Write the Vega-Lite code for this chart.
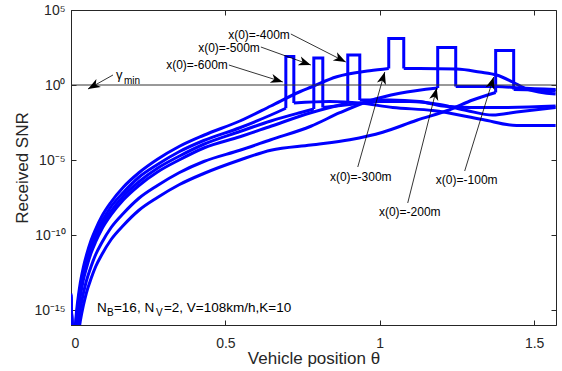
{
"$schema":"https://vega.github.io/schema/vega-lite/v6.json",
"width":485,"height":315,
"autosize":{"type":"none"},
"padding":{"left":71,"top":10,"right":6,"bottom":46},
"config":{
 "view":{"stroke":"#262626","strokeWidth":1},
 "axis":{"grid":false,"domainColor":"#262626","tickColor":"#262626","labelColor":"#262626","titleColor":"#262626","labelFont":"Liberation Sans","titleFont":"Liberation Sans","titleFontWeight":"normal","labelFontSize":14,"titleFontSize":17,"tickSize":-5,"tickWidth":1,"domainWidth":1},
 "text":{"font":"Liberation Sans"}
},
"datasets":{
 "curves":[
  {"s":"-300","p":"a","i":1,"t":0,"v":1.259e-14},{"s":"-300","p":"a","i":2,"t":0.006,"v":1e-17},{"s":"-300","p":"a","i":3,"t":0.013,"v":5.012e-17},{"s":"-300","p":"a","i":4,"t":0.0162,"v":3.162e-16},{"s":"-300","p":"a","i":5,"t":0.02,"v":1.995e-15},{"s":"-300","p":"a","i":6,"t":0.025,"v":1.259e-14},{"s":"-300","p":"a","i":7,"t":0.03,"v":6.31e-14},{"s":"-300","p":"a","i":8,"t":0.04,"v":7.079e-13},{"s":"-300","p":"a","i":9,"t":0.05,"v":4.467e-12},{"s":"-300","p":"a","i":10,"t":0.065,"v":4.467e-11},{"s":"-300","p":"a","i":11,"t":0.08,"v":2.512e-10},{"s":"-300","p":"a","i":12,"t":0.1,"v":1.778e-9},{"s":"-300","p":"a","i":13,"t":0.13,"v":1.585e-8},{"s":"-300","p":"a","i":14,"t":0.17,"v":1.585e-7},{"s":"-300","p":"a","i":15,"t":0.22,"v":1.413e-6},{"s":"-300","p":"a","i":16,"t":0.28,"v":1.122e-5},{"s":"-300","p":"a","i":17,"t":0.35,"v":7.943e-5},{"s":"-300","p":"a","i":18,"t":0.43,"v":4.467e-4},{"s":"-300","p":"a","i":19,"t":0.5469,"v":3.981e-3},{"s":"-300","p":"a","i":20,"t":0.6472,"v":3.981e-2},{"s":"-300","p":"a","i":21,"t":0.7411,"v":0.3548},{"s":"-300","p":"a","i":22,"t":0.7767,"v":0.7079},{"s":"-300","p":"a","i":23,"t":0.8608,"v":3.548},{"s":"-300","p":"a","i":24,"t":0.9676,"v":8.913},{"s":"-300","p":"a","i":25,"t":1.0291,"v":12.59},
  {"s":"-300","p":"p","i":25,"t":1.0291,"v":12.59},{"s":"-300","p":"p","i":26,"t":1.0291,"v":1259},{"s":"-300","p":"p","i":27,"t":1.0777,"v":1259},{"s":"-300","p":"p","i":28,"t":1.0777,"v":12.59},
  {"s":"-300","p":"b","i":28,"t":1.0777,"v":12.59},{"s":"-300","p":"b","i":29,"t":1.1294,"v":12.59},{"s":"-300","p":"b","i":30,"t":1.2492,"v":11.7},{"s":"-300","p":"b","i":31,"t":1.3236,"v":7.36},{"s":"-300","p":"b","i":32,"t":1.3786,"v":4.64},{"s":"-300","p":"b","i":33,"t":1.4304,"v":1.585},{"s":"-300","p":"b","i":34,"t":1.4757,"v":0.541},{"s":"-300","p":"b","i":35,"t":1.5696,"v":0.2512},

  {"s":"-600","p":"a","i":1,"t":0,"v":1e-14},{"s":"-600","p":"a","i":2,"t":0.006,"v":1e-17},{"s":"-600","p":"a","i":3,"t":0.014,"v":4.467e-17},{"s":"-600","p":"a","i":4,"t":0.0162,"v":1.585e-16},{"s":"-600","p":"a","i":5,"t":0.02,"v":8.913e-16},{"s":"-600","p":"a","i":6,"t":0.025,"v":6.31e-15},{"s":"-600","p":"a","i":7,"t":0.03,"v":2.818e-14},{"s":"-600","p":"a","i":8,"t":0.04,"v":3.162e-13},{"s":"-600","p":"a","i":9,"t":0.05,"v":2.239e-12},{"s":"-600","p":"a","i":10,"t":0.065,"v":1.995e-11},{"s":"-600","p":"a","i":11,"t":0.08,"v":1.259e-10},{"s":"-600","p":"a","i":12,"t":0.1,"v":7.943e-10},{"s":"-600","p":"a","i":13,"t":0.13,"v":7.943e-9},{"s":"-600","p":"a","i":14,"t":0.17,"v":7.079e-8},{"s":"-600","p":"a","i":15,"t":0.22,"v":7.079e-7},{"s":"-600","p":"a","i":16,"t":0.28,"v":5.012e-6},{"s":"-600","p":"a","i":17,"t":0.35,"v":3.548e-5},{"s":"-600","p":"a","i":18,"t":0.43,"v":1.995e-4},{"s":"-600","p":"a","i":19,"t":0.5469,"v":1.413e-3},{"s":"-600","p":"a","i":20,"t":0.6472,"v":1e-2},{"s":"-600","p":"a","i":21,"t":0.6958,"v":2.818e-2},
  {"s":"-600","p":"p","i":21,"t":0.6958,"v":2.818e-2},{"s":"-600","p":"p","i":22,"t":0.6958,"v":79.43},{"s":"-600","p":"p","i":23,"t":0.7217,"v":79.43},{"s":"-600","p":"p","i":24,"t":0.7217,"v":6.31e-2},
  {"s":"-600","p":"b","i":24,"t":0.7217,"v":6.31e-2},{"s":"-600","p":"b","i":25,"t":0.8382,"v":7.943e-2},{"s":"-600","p":"b","i":26,"t":0.9353,"v":6.31e-2},{"s":"-600","p":"b","i":27,"t":1.0421,"v":3.162e-2},{"s":"-600","p":"b","i":28,"t":1.1715,"v":1.995e-2},{"s":"-600","p":"b","i":29,"t":1.3333,"v":5.012e-3},{"s":"-600","p":"b","i":30,"t":1.4434,"v":1.995e-3},{"s":"-600","p":"b","i":31,"t":1.5696,"v":1.995e-3},

  {"s":"-500","p":"a","i":1,"t":0,"v":7.943e-15},{"s":"-500","p":"a","i":2,"t":0.006,"v":1e-17},{"s":"-500","p":"a","i":3,"t":0.015,"v":3.981e-17},{"s":"-500","p":"a","i":4,"t":0.02,"v":5.012e-16},{"s":"-500","p":"a","i":5,"t":0.025,"v":3.162e-15},{"s":"-500","p":"a","i":6,"t":0.03,"v":1.585e-14},{"s":"-500","p":"a","i":7,"t":0.04,"v":1.778e-13},{"s":"-500","p":"a","i":8,"t":0.05,"v":1.122e-12},{"s":"-500","p":"a","i":9,"t":0.065,"v":1.122e-11},{"s":"-500","p":"a","i":10,"t":0.08,"v":6.31e-11},{"s":"-500","p":"a","i":11,"t":0.1,"v":4.467e-10},{"s":"-500","p":"a","i":12,"t":0.13,"v":3.981e-9},{"s":"-500","p":"a","i":13,"t":0.17,"v":3.981e-8},{"s":"-500","p":"a","i":14,"t":0.22,"v":3.548e-7},{"s":"-500","p":"a","i":15,"t":0.28,"v":2.818e-6},{"s":"-500","p":"a","i":16,"t":0.35,"v":1.778e-5},{"s":"-500","p":"a","i":17,"t":0.43,"v":1.122e-4},{"s":"-500","p":"a","i":18,"t":0.5469,"v":7.943e-4},{"s":"-500","p":"a","i":19,"t":0.6472,"v":3.981e-3},{"s":"-500","p":"a","i":20,"t":0.7411,"v":1.413e-2},{"s":"-500","p":"a","i":21,"t":0.7864,"v":2.512e-2},
  {"s":"-500","p":"p","i":21,"t":0.7864,"v":2.512e-2},{"s":"-500","p":"p","i":22,"t":0.7864,"v":63.1},{"s":"-500","p":"p","i":23,"t":0.8155,"v":63.1},{"s":"-500","p":"p","i":24,"t":0.8155,"v":3.162e-2},
  {"s":"-500","p":"b","i":24,"t":0.8155,"v":3.162e-2},{"s":"-500","p":"b","i":25,"t":0.9029,"v":5.012e-2},{"s":"-500","p":"b","i":26,"t":1.0,"v":7.943e-2},{"s":"-500","p":"b","i":27,"t":1.0971,"v":7.943e-2},{"s":"-500","p":"b","i":28,"t":1.1942,"v":5.012e-2},{"s":"-500","p":"b","i":29,"t":1.2816,"v":1.995e-2},{"s":"-500","p":"b","i":30,"t":1.3657,"v":1e-2},{"s":"-500","p":"b","i":31,"t":1.4434,"v":1.585e-2},{"s":"-500","p":"b","i":32,"t":1.5696,"v":3.162e-2},

  {"s":"-400","p":"a","i":1,"t":0,"v":5.012e-15},{"s":"-400","p":"a","i":2,"t":0.007,"v":1e-17},{"s":"-400","p":"a","i":3,"t":0.016,"v":3.981e-17},{"s":"-400","p":"a","i":4,"t":0.02,"v":2.818e-16},{"s":"-400","p":"a","i":5,"t":0.025,"v":1.778e-15},{"s":"-400","p":"a","i":6,"t":0.03,"v":7.943e-15},{"s":"-400","p":"a","i":7,"t":0.04,"v":1e-13},{"s":"-400","p":"a","i":8,"t":0.05,"v":6.31e-13},{"s":"-400","p":"a","i":9,"t":0.065,"v":6.31e-12},{"s":"-400","p":"a","i":10,"t":0.08,"v":3.548e-11},{"s":"-400","p":"a","i":11,"t":0.1,"v":2.512e-10},{"s":"-400","p":"a","i":12,"t":0.13,"v":2.239e-9},{"s":"-400","p":"a","i":13,"t":0.17,"v":2.239e-8},{"s":"-400","p":"a","i":14,"t":0.22,"v":1.995e-7},{"s":"-400","p":"a","i":15,"t":0.28,"v":1.585e-6},{"s":"-400","p":"a","i":16,"t":0.35,"v":1e-5},{"s":"-400","p":"a","i":17,"t":0.43,"v":6.31e-5},{"s":"-400","p":"a","i":18,"t":0.5469,"v":3.548e-4},{"s":"-400","p":"a","i":19,"t":0.6472,"v":1.778e-3},{"s":"-400","p":"a","i":20,"t":0.7767,"v":1.413e-2},{"s":"-400","p":"a","i":21,"t":0.8964,"v":6.31e-2},
  {"s":"-400","p":"p","i":21,"t":0.8964,"v":6.31e-2},{"s":"-400","p":"p","i":22,"t":0.8964,"v":100},{"s":"-400","p":"p","i":23,"t":0.9353,"v":100},{"s":"-400","p":"p","i":24,"t":0.9353,"v":0.1},
  {"s":"-400","p":"b","i":24,"t":0.9353,"v":0.1},{"s":"-400","p":"b","i":25,"t":1.0324,"v":0.1},{"s":"-400","p":"b","i":26,"t":1.1294,"v":7.943e-2},{"s":"-400","p":"b","i":27,"t":1.2039,"v":3.981e-2},{"s":"-400","p":"b","i":28,"t":1.2913,"v":3.162e-2},{"s":"-400","p":"b","i":29,"t":1.3883,"v":3.162e-2},{"s":"-400","p":"b","i":30,"t":1.5696,"v":3.981e-2},

  {"s":"-200","p":"a","i":1,"t":0,"v":3.981e-15},{"s":"-200","p":"a","i":2,"t":0.008,"v":1e-17},{"s":"-200","p":"a","i":3,"t":0.02,"v":3.548e-17},{"s":"-200","p":"a","i":4,"t":0.025,"v":2.512e-16},{"s":"-200","p":"a","i":5,"t":0.03,"v":1.122e-15},{"s":"-200","p":"a","i":6,"t":0.04,"v":1.259e-14},{"s":"-200","p":"a","i":7,"t":0.05,"v":8.913e-14},{"s":"-200","p":"a","i":8,"t":0.065,"v":7.943e-13},{"s":"-200","p":"a","i":9,"t":0.08,"v":5.012e-12},{"s":"-200","p":"a","i":10,"t":0.1,"v":3.162e-11},{"s":"-200","p":"a","i":11,"t":0.13,"v":3.162e-10},{"s":"-200","p":"a","i":12,"t":0.17,"v":2.818e-9},{"s":"-200","p":"a","i":13,"t":0.22,"v":2.818e-8},{"s":"-200","p":"a","i":14,"t":0.28,"v":1.995e-7},{"s":"-200","p":"a","i":15,"t":0.35,"v":1.413e-6},{"s":"-200","p":"a","i":16,"t":0.43,"v":7.943e-6},{"s":"-200","p":"a","i":17,"t":0.5469,"v":4.467e-5},{"s":"-200","p":"a","i":18,"t":0.6472,"v":2.239e-4},{"s":"-200","p":"a","i":19,"t":0.7767,"v":1.778e-3},{"s":"-200","p":"a","i":20,"t":0.8706,"v":1.413e-2},{"s":"-200","p":"a","i":21,"t":0.9676,"v":8.913e-2},{"s":"-200","p":"a","i":22,"t":1.0647,"v":0.2818},{"s":"-200","p":"a","i":23,"t":1.1877,"v":0.631},
  {"s":"-200","p":"p","i":23,"t":1.1877,"v":0.631},{"s":"-200","p":"p","i":24,"t":1.1877,"v":316.2},{"s":"-200","p":"p","i":25,"t":1.246,"v":316.2},{"s":"-200","p":"p","i":26,"t":1.246,"v":0.7943},
  {"s":"-200","p":"b","i":26,"t":1.246,"v":0.7943},{"s":"-200","p":"b","i":27,"t":1.3786,"v":0.7943},{"s":"-200","p":"b","i":28,"t":1.4531,"v":0.631},{"s":"-200","p":"b","i":29,"t":1.5696,"v":0.5012},

  {"s":"-100","p":"a","i":1,"t":0,"v":3.162e-15},{"s":"-100","p":"a","i":2,"t":0.01,"v":1e-17},{"s":"-100","p":"a","i":3,"t":0.025,"v":3.981e-17},{"s":"-100","p":"a","i":4,"t":0.03,"v":1.778e-16},{"s":"-100","p":"a","i":5,"t":0.04,"v":1.995e-15},{"s":"-100","p":"a","i":6,"t":0.05,"v":1.413e-14},{"s":"-100","p":"a","i":7,"t":0.065,"v":1.259e-13},{"s":"-100","p":"a","i":8,"t":0.08,"v":7.943e-13},{"s":"-100","p":"a","i":9,"t":0.1,"v":5.012e-12},{"s":"-100","p":"a","i":10,"t":0.13,"v":5.012e-11},{"s":"-100","p":"a","i":11,"t":0.17,"v":4.467e-10},{"s":"-100","p":"a","i":12,"t":0.22,"v":4.467e-9},{"s":"-100","p":"a","i":13,"t":0.28,"v":3.162e-8},{"s":"-100","p":"a","i":14,"t":0.35,"v":2.239e-7},{"s":"-100","p":"a","i":15,"t":0.43,"v":1.259e-6},{"s":"-100","p":"a","i":16,"t":0.5469,"v":1e-5},{"s":"-100","p":"a","i":17,"t":0.6472,"v":4.467e-5},{"s":"-100","p":"a","i":18,"t":0.7767,"v":1e-4},{"s":"-100","p":"a","i":19,"t":0.9029,"v":2.239e-4},{"s":"-100","p":"a","i":20,"t":1.0097,"v":7.079e-4},{"s":"-100","p":"a","i":21,"t":1.1197,"v":4.467e-3},{"s":"-100","p":"a","i":22,"t":1.2265,"v":2.239e-2},{"s":"-100","p":"a","i":23,"t":1.301,"v":0.1},{"s":"-100","p":"a","i":24,"t":1.3754,"v":0.3162},
  {"s":"-100","p":"p","i":24,"t":1.3754,"v":0.3162},{"s":"-100","p":"p","i":25,"t":1.3754,"v":199.5},{"s":"-100","p":"p","i":26,"t":1.4337,"v":199.5},{"s":"-100","p":"p","i":27,"t":1.4337,"v":0.5012},
  {"s":"-100","p":"b","i":27,"t":1.4337,"v":0.5012},{"s":"-100","p":"b","i":28,"t":1.5016,"v":0.47},{"s":"-100","p":"b","i":29,"t":1.5696,"v":0.3981}
 ],
 "gammaline":[{"g":1}],
 "arrows":[
  {"t":0.5113,"v":21.5,"t2":0.6861,"v2":1.585},
  {"t":0.6149,"v":341,"t2":0.7767,"v2":21.5},
  {"t":0.712,"v":2512,"t2":0.89,"v2":34.1},
  {"t":0.1359,"v":4.64,"t2":0.055,"v2":0.541},
  {"t":0.9288,"v":3.41e-6,"t2":1.0162,"v2":7.36},
  {"t":1.0906,"v":1.36e-8,"t2":1.1845,"v2":0.631},
  {"t":1.2751,"v":1.85e-6,"t2":1.3689,"v2":3.41}
 ],
 "heads":[
  {"t":0.6861,"v":1.585,"a":17.5},
  {"t":0.7767,"v":21.5,"a":19.8},
  {"t":0.89,"v":34.1,"a":27},
  {"t":0.055,"v":0.541,"a":150.8},
  {"t":1.0162,"v":7.36,"a":-74.1},
  {"t":1.1845,"v":0.631,"a":-75.8},
  {"t":1.3689,"v":3.41,"a":-72.9}
 ],
 "annr":[
  {"t":0.508,"v":21.5,"label":"x(0)=-600m"},
  {"t":0.6117,"v":293,"label":"x(0)=-500m"},
  {"t":0.7087,"v":2154,"label":"x(0)=-400m"}
 ],
 "annc":[
  {"t":0.9385,"v":7.36e-7,"label":"x(0)=-300m"},
  {"t":1.0971,"v":3.41e-9,"label":"x(0)=-200m"},
  {"t":1.2816,"v":4.64e-7,"label":"x(0)=-100m"}
 ],
 "gam":[{"t":0.1456,"v":2.512,"label":"γ"}],
 "gsub":[{"t":0.1715,"v":1.166,"label":"min"}],
 "nb":[
  {"t":0.0841,"v":7.36e-16,"label":"N"},
  {"t":0.1392,"v":7.36e-16,"label":"=16, N"},
  {"t":0.301,"v":7.36e-16,"label":"=2, V=108km/h,K=10"}
 ],
 "nbsub":[
  {"t":0.1165,"v":3.98e-16,"label":"B"},
  {"t":0.2751,"v":3.98e-16,"label":"V"}
 ]
},
"layer":[
 {"data":{"name":"curves"},
  "transform":[{"filter":"datum.p != 'p'"}],
  "mark":{"type":"line","color":"#0000ff","strokeWidth":3,"clip":true,"interpolate":"monotone"},
  "encoding":{
   "x":{"field":"t","type":"quantitative","scale":{"domain":[0,1.5708],"nice":false,"zero":false},
        "axis":{"values":[0,0.5,1,1.5],"format":"~g","title":"Vehicle position θ","labelPadding":16,"titleY":38,"titleBaseline":"alphabetic"}},
   "y":{"field":"v","type":"quantitative","scale":{"type":"log","domain":[1e-16,1e5],"nice":false},
        "axis":{"values":[1e-15,1e-10,1e-5,1,1e5],"labelExpr":"datum.value > 1e4 ? '10⁵' : datum.value > 0.1 ? '10⁰' : datum.value > 1e-6 ? '10⁻⁵' : datum.value > 1e-11 ? '10⁻¹⁰' : '10⁻¹⁵'","title":"Received SNR","labelPadding":11,"titleX":-44,"titleBaseline":"alphabetic"}},
   "detail":[{"field":"s","type":"nominal"},{"field":"p","type":"nominal"}],
   "order":{"field":"i","type":"quantitative"}
  }},
 {"data":{"name":"curves"},
  "transform":[{"filter":"datum.p == 'p'"}],
  "mark":{"type":"line","color":"#0000ff","strokeWidth":3,"clip":true,"strokeJoin":"miter"},
  "encoding":{
   "x":{"field":"t","type":"quantitative","scale":{"domain":[0,1.5708],"nice":false,"zero":false},"axis":null},
   "y":{"field":"v","type":"quantitative","scale":{"type":"log","domain":[1e-16,1e5],"nice":false},"axis":null},
   "detail":{"field":"s","type":"nominal"},
   "order":{"field":"i","type":"quantitative"}
  }},
 {"data":{"name":"gammaline"},
  "mark":{"type":"rule","color":"#333333","strokeWidth":1},
  "encoding":{"y":{"field":"g","type":"quantitative","scale":{"type":"log","domain":[1e-16,1e5],"nice":false},"axis":null}}},
 {"data":{"name":"arrows"},
  "mark":{"type":"rule","color":"#000000","strokeWidth":0.8},
  "encoding":{
   "x":{"field":"t","type":"quantitative","scale":{"domain":[0,1.5708],"nice":false,"zero":false},"axis":null},
   "y":{"field":"v","type":"quantitative","scale":{"type":"log","domain":[1e-16,1e5],"nice":false},"axis":null},
   "x2":{"field":"t2"},"y2":{"field":"v2"}}},
 {"data":{"name":"heads"},
  "mark":{"type":"point","shape":"M0,0L-1,-0.38L-0.72,0L-1,0.38Z","filled":true,"color":"#000000","size":600,"opacity":1,"strokeWidth":0},
  "encoding":{
   "x":{"field":"t","type":"quantitative","scale":{"domain":[0,1.5708],"nice":false,"zero":false},"axis":null},
   "y":{"field":"v","type":"quantitative","scale":{"type":"log","domain":[1e-16,1e5],"nice":false},"axis":null},
   "angle":{"field":"a","type":"quantitative","scale":null}}},
 {"data":{"name":"annr"},
  "mark":{"type":"text","align":"right","baseline":"middle","fontSize":12,"font":"Liberation Sans","color":"#000000"},
  "encoding":{
   "x":{"field":"t","type":"quantitative","scale":{"domain":[0,1.5708],"nice":false,"zero":false},"axis":null},
   "y":{"field":"v","type":"quantitative","scale":{"type":"log","domain":[1e-16,1e5],"nice":false},"axis":null},
   "text":{"field":"label"}}},
 {"data":{"name":"gam"},
  "mark":{"type":"text","align":"left","baseline":"alphabetic","fontSize":13,"font":"Liberation Sans","color":"#000000"},
  "encoding":{
   "x":{"field":"t","type":"quantitative","scale":{"domain":[0,1.5708],"nice":false,"zero":false},"axis":null},
   "y":{"field":"v","type":"quantitative","scale":{"type":"log","domain":[1e-16,1e5],"nice":false},"axis":null},
   "text":{"field":"label"}}},
 {"data":{"name":"gsub"},
  "mark":{"type":"text","align":"left","baseline":"alphabetic","fontSize":10,"font":"Liberation Sans","color":"#000000"},
  "encoding":{
   "x":{"field":"t","type":"quantitative","scale":{"domain":[0,1.5708],"nice":false,"zero":false},"axis":null},
   "y":{"field":"v","type":"quantitative","scale":{"type":"log","domain":[1e-16,1e5],"nice":false},"axis":null},
   "text":{"field":"label"}}},
 {"data":{"name":"nb"},
  "mark":{"type":"text","align":"left","baseline":"alphabetic","fontSize":13.5,"font":"Liberation Sans","color":"#000000"},
  "encoding":{
   "x":{"field":"t","type":"quantitative","scale":{"domain":[0,1.5708],"nice":false,"zero":false},"axis":null},
   "y":{"field":"v","type":"quantitative","scale":{"type":"log","domain":[1e-16,1e5],"nice":false},"axis":null},
   "text":{"field":"label"}}},
 {"data":{"name":"nbsub"},
  "mark":{"type":"text","align":"left","baseline":"alphabetic","fontSize":10,"font":"Liberation Sans","color":"#000000"},
  "encoding":{
   "x":{"field":"t","type":"quantitative","scale":{"domain":[0,1.5708],"nice":false,"zero":false},"axis":null},
   "y":{"field":"v","type":"quantitative","scale":{"type":"log","domain":[1e-16,1e5],"nice":false},"axis":null},
   "text":{"field":"label"}}},
 {"data":{"name":"annc"},
  "mark":{"type":"text","align":"center","baseline":"middle","fontSize":12,"font":"Liberation Sans","color":"#000000"},
  "encoding":{
   "x":{"field":"t","type":"quantitative","scale":{"domain":[0,1.5708],"nice":false,"zero":false},
        "axis":{"orient":"top","values":[0,0.5,1,1.5],"labels":false,"title":null,"domain":false}},
   "y":{"field":"v","type":"quantitative","scale":{"type":"log","domain":[1e-16,1e5],"nice":false},
        "axis":{"orient":"right","values":[1e-15,1e-10,1e-5,1,1e5],"labels":false,"title":null,"domain":false}},
   "text":{"field":"label"}}}
],
"resolve":{"axis":{"x":"independent","y":"independent"}}
}
